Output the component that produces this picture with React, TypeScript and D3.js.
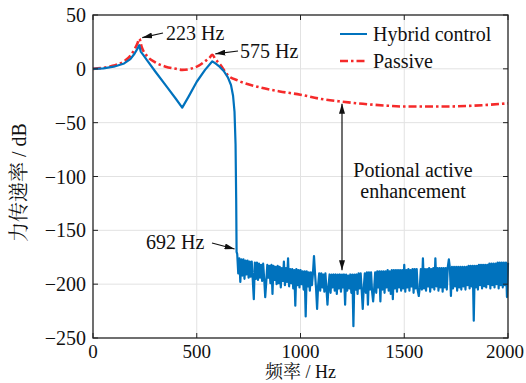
import React from "react";
import * as d3 from "d3";

// ---- data ----
const hybridFreq = [0, 50, 100, 150, 180, 200, 215, 223, 230, 242, 260, 300, 357, 400, 430, 460, 500, 540, 575, 590, 610, 630, 650, 665, 675, 682, 687, 690, 692];
const hybridVal = [0, 0.5, 2, 5, 9, 14, 19, 22, 16, 13, 8, -2.5, -17, -28, -36, -26, -12, -1, 7, 5, 2, -2, -8, -15, -25, -40, -70, -120, -170];
const noiseStart = 695;
const noiseStep = 5;
const hybridNoise = [
  -172, -190, -176, -198, -177, -192, -177, -195, -178, -191, -178, -194, -179, -193, -179, -196, -214, -180, -195, -180,
  -196, -181, -194, -182, -197, -181, -195, -212, -198, -182, -194, -183, -199, -182, -209, -183, -196, -184, -200, -183,
  -199, -184, -203, -185, -197, -179, -201, -185, -198, -176, -202, -186, -199, -186, -204, -187, -220, -186, -201, -187,
  -203, -187, -200, -188, -205, -188, -230, -188, -202, -189, -206, -189, -201, -190, -174, -190, -204, -223, -201, -190,
  -206, -190, -203, -191, -207, -190, -204, -219, -202, -191, -208, -191, -203, -191, -206, -191, -209, -191, -204, -191,
  -207, -191, -203, -191, -219, -191, -206, -192, -204, -191, -208, -191, -239, -191, -205, -191, -209, -190, -204, -190,
  -206, -223, -203, -190, -208, -189, -219, -189, -205, -189, -207, -216, -204, -189, -208, -188, -203, -188, -216, -188,
  -205, -188, -208, -188, -203, -187, -206, -188, -209, -187, -214, -187, -204, -187, -207, -187, -203, -187, -206, -187,
  -204, -182, -207, -187, -203, -186, -206, -187, -202, -186, -208, -186, -204, -186, -206, -211, -203, -186, -205, -176,
  -204, -186, -206, -186, -202, -185, -207, -186, -203, -185, -205, -176, -202, -185, -206, -185, -203, -185, -207, -185,
  -203, -185, -205, -184, -177, -185, -211, -184, -204, -184, -202, -184, -206, -184, -203, -184, -205, -184, -202, -184,
  -205, -184, -201, -183, -204, -183, -202, -183, -234, -183, -203, -183, -205, -182, -201, -182, -204, -182, -202, -182,
  -203, -182, -200, -181, -204, -181, -201, -181, -203, -181, -200, -180, -204, -180, -201, -180, -203, -180, -201, -180,
  -212, -180,
];
const passiveFreq = [0, 50, 100, 150, 180, 200, 215, 223, 235, 260, 300, 350, 400, 430, 470, 510, 540, 560, 575, 590, 613, 650, 700, 800, 900, 1000, 1100, 1200, 1300, 1400, 1500, 1600, 1700, 1800, 1900, 2000];
const passiveVal = [0, 1, 3, 7, 12, 18, 24, 28, 20, 12, 6, 2, 0, -1, 0, 3, 7, 10, 13, 9, 4, -6, -11, -17, -21, -24, -28, -30.5, -32.5, -34, -35, -35, -35, -34.5, -33.5, -32];
const xTicks = [0, 500, 1000, 1500, 2000];
const yTicks = [50, 0, -50, -100, -150, -200, -250];
const seriesNames = ["Hybrid control", "Passive"];

const W = 526, H = 383;
const M = { left: 93, right: 508, top: 15, bottom: 338 };
const FONT = "'Times New Roman', Times, 'Liberation Serif', Tinos, 'DejaVu Serif', 'Noto Serif', serif";
const CJK = "'Times New Roman', 'Liberation Serif', 'Noto Serif CJK SC', 'Noto Sans CJK SC', serif";
const FS = 20;

export default function App() {
  const x = d3.scaleLinear().domain([0, 2000]).range([M.left, M.right]);
  const y = d3.scaleLinear().domain([-250, 50]).range([M.bottom, M.top]);

  const hybrid: [number, number][] = hybridFreq.map((f, i) => [f, hybridVal[i]]);
  hybridNoise.forEach((v, i) => hybrid.push([noiseStart + i * noiseStep, v]));
  const passive: [number, number][] = passiveFreq.map((f, i) => [f, passiveVal[i]]);

  const line = d3.line<[number, number]>().x(d => x(d[0])).y(d => y(d[1]));
  const smooth = d3.line<[number, number]>().x(d => x(d[0])).y(d => y(d[1])).curve(d3.curveMonotoneX);

  const blue = "#0072BD";
  const red = "#F52A2A";
  const tick = 5;
  const txt = { fontFamily: FONT, fontSize: FS, fill: "#111" } as const;

  return (
    <svg width={W} height={H} style={{ position: "absolute", left: 0, top: 0, background: "#fff" }}>
      <defs>
        <marker id="ah" viewBox="0 0 10 6" refX="10" refY="3" markerWidth="10" markerHeight="6" markerUnits="userSpaceOnUse" orient="auto-start-reverse">
          <path d="M0,0 L10,3 L0,6 Z" fill="#111" />
        </marker>
      </defs>
      {/* grid */}
      {xTicks.slice(1, -1).map(t => (
        <line key={"gx" + t} x1={x(t)} x2={x(t)} y1={M.top} y2={M.bottom} stroke="#e2e2e2" strokeWidth={1} />
      ))}
      {yTicks.slice(1, -1).map(t => (
        <line key={"gy" + t} x1={M.left} x2={M.right} y1={y(t)} y2={y(t)} stroke="#e2e2e2" strokeWidth={1} />
      ))}
      {/* data */}
      <path d={smooth(passive) || ""} fill="none" stroke={red} strokeWidth={2.6} strokeDasharray="8,3,2.5,3" />
      <path d={line(hybrid) || ""} fill="none" stroke={blue} strokeWidth={2.2} strokeLinejoin="round" />
      {/* box */}
      <rect x={M.left} y={M.top} width={M.right - M.left} height={M.bottom - M.top} fill="none" stroke="#222" strokeWidth={1.3} />
      {xTicks.map(t => (
        <g key={"tx" + t}>
          <line x1={x(t)} x2={x(t)} y1={M.bottom} y2={M.bottom - tick} stroke="#222" />
          <line x1={x(t)} x2={x(t)} y1={M.top} y2={M.top + tick} stroke="#222" />
          <text x={t === 2000 ? x(t) - 3 : x(t)} y={M.bottom + 20} textAnchor="middle" style={{ ...txt, fontSize: 19 }}>{t}</text>
        </g>
      ))}
      {yTicks.map(t => (
        <g key={"ty" + t}>
          <line x1={M.left} x2={M.left + tick} y1={y(t)} y2={y(t)} stroke="#222" />
          <line x1={M.right} x2={M.right - tick} y1={y(t)} y2={y(t)} stroke="#222" />
          <text x={M.left - 7} y={y(t)} dy="0.35em" textAnchor="end" style={txt}>{t < 0 ? "\u2212" + Math.abs(t) : t}</text>
        </g>
      ))}
      {/* axis titles */}
      <text x={(M.left + M.right) / 2} y={378} textAnchor="middle" style={{ ...txt, fontFamily: CJK, fontSize: 18 }}>频率 / Hz</text>
      <text transform={`translate(26,${(M.top + M.bottom) / 2 + 6}) rotate(-90)`} textAnchor="middle" style={{ ...txt, fontFamily: CJK }}>力传递率 / dB</text>
      {/* legend */}
      <line x1={340} x2={367} y1={34} y2={34} stroke={blue} strokeWidth={2} />
      <text x={373} y={34} dy="0.35em" style={txt}>{seriesNames[0]}</text>
      <line x1={340} x2={367} y1={61} y2={61} stroke={red} strokeWidth={2.6} strokeDasharray="8,3,2.5,3" />
      <text x={373} y={61} dy="0.35em" style={txt}>{seriesNames[1]}</text>
      {/* annotations */}
      <line x1={163} y1={33} x2={x(223) + 3} y2={y(28) - 1} stroke="#111" strokeWidth={1.2} markerEnd="url(#ah)" />
      <text x={166} y={33} dy="0.35em" style={txt}>223 Hz</text>
      <line x1={238} y1={51} x2={x(575) + 3} y2={y(13) - 1} stroke="#111" strokeWidth={1.2} markerEnd="url(#ah)" />
      <text x={240} y={51} dy="0.35em" style={txt}>575 Hz</text>
      <line x1={212} y1={243} x2={x(692) - 2} y2={249} stroke="#111" strokeWidth={1.2} markerEnd="url(#ah)" />
      <text x={146} y={242} dy="0.35em" style={txt}>692 Hz</text>
      <line x1={x(1200)} x2={x(1200)} y1={y(-30.5) + 2} y2={y(-188) - 1} stroke="#111" strokeWidth={1.2} markerStart="url(#ah)" markerEnd="url(#ah)" />
      <text x={413} y={170} dy="0.35em" textAnchor="middle" style={txt}>Potional active</text>
      <text x={413} y={191} dy="0.35em" textAnchor="middle" style={txt}>enhancement</text>
    </svg>
  );
}
